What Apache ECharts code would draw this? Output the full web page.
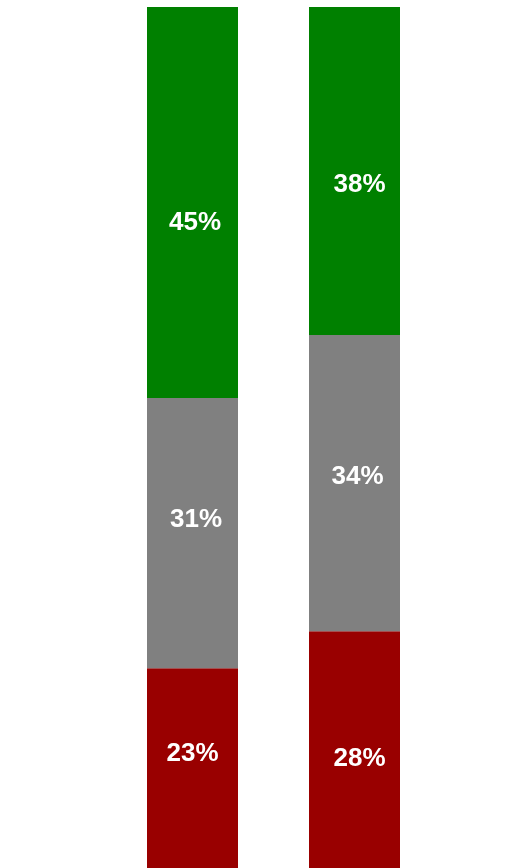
<!DOCTYPE html>
<html>
<head>
<meta charset="utf-8">
<script src="https://cdn.jsdelivr.net/npm/echarts@6/dist/echarts.min.js"></script>
<style>
  html, body { margin: 0; padding: 0; background: #ffffff; }
  #chart { width: 529px; height: 868px; }
</style>
</head>
<body>
<div id="chart"></div>
<script>
  // two columns, each split in three shares (bottom to top)
  var categories = ['A', 'B']
  var redValues = [23.2, 27.5]
  var grayValues = [31.4, 34.4]
  var greenValues = [45.4, 38.1]

  // label nudges, per column [dx, dy]
  var redOffsets = [[0, -14], [5, 9]]
  var grayOffsets = [[3.5, -13], [3, -6]]
  var greenOffsets = [[2.5, 20], [5, 14]]

  var chart = echarts.init(document.getElementById('chart'))

  function seg(name, values, offsets, color) {
    return {
      name: name,
      type: 'bar',
      stack: 'total',
      barWidth: 91,
      data: values.map(function (v, i) {
        return { value: v, label: { offset: offsets[i] } }
      }),
      itemStyle: { color: color },
      label: {
        show: true,
        position: 'inside',
        color: '#ffffff',
        fontSize: 26,
        fontWeight: 'bold',
        fontFamily: 'Liberation Sans, Arial, sans-serif',
        formatter: function (p) { return Math.round(p.value) + '%' }
      }
    }
  }

  chart.setOption({
    animation: false,
    grid: { left: 111.5, width: 324, top: 7, bottom: 0 },
    xAxis: {
      type: 'category',
      data: categories,
      show: false
    },
    yAxis: {
      type: 'value',
      min: 0,
      max: 100,
      show: false
    },
    series: [
      seg('red', redValues, redOffsets, '#990000'),
      seg('gray', grayValues, grayOffsets, '#808080'),
      seg('green', greenValues, greenOffsets, '#008000')
    ]
  })
</script>
</body>
</html>
